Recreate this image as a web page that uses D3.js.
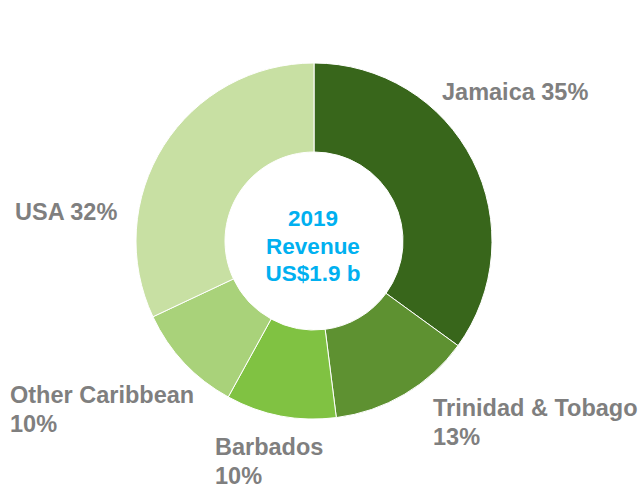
<!DOCTYPE html>
<html>
<head>
<meta charset="utf-8">
<script src="https://cdn.jsdelivr.net/npm/d3@7"></script>
<style>
  html, body { margin: 0; padding: 0; background: #fff; }
  svg { display: block; }
  text { font-family: "Liberation Sans", Arial, Helvetica, sans-serif; font-weight: bold; }
</style>
</head>
<body>
<svg id="chart" width="644" height="488"></svg>
<script>
// Data
const categories = ["Jamaica", "Trinidad & Tobago", "Barbados", "Other Caribbean", "USA"];
const shares = [35, 13, 10, 10, 32];
const labelLines = [
  ["Jamaica 35%"],
  ["Trinidad & Tobago", "13%"],
  ["Barbados", "10%"],
  ["Other Caribbean", "10%"],
  ["USA 32%"]
];
const centerLines = ["2019", "Revenue", "US$1.9 b"];

// Styling / layout
const colors = ["#38661b", "#5e9131", "#80c242", "#a9d27a", "#c8e0a3"];
const labelPos = [
  [442, 100], [433, 416], [215, 455], [10, 403], [15, 220]
];
const cx = 314, cy = 241, outerR = 178, innerR = 89;

const svg = d3.select("#chart");
const g = svg.append("g").attr("transform", `translate(${cx},${cy})`);

const pie = d3.pie().sort(null).value(d => d.v);
const arc = d3.arc().innerRadius(innerR).outerRadius(outerR);
const data = categories.map((c, i) => ({ c, v: shares[i], i }));

g.selectAll("path.slice")
  .data(pie(data))
  .join("path")
  .attr("class", "slice")
  .attr("d", arc)
  .attr("fill", d => colors[d.data.i])
  .attr("stroke", "#fff")
  .attr("stroke-width", 1);

// Labels
labelLines.forEach((lines, i) => {
  const t = svg.append("text")
    .attr("x", labelPos[i][0])
    .attr("y", labelPos[i][1])
    .attr("font-size", 23.5)
    .attr("fill", "#7f7f7f");
  lines.forEach((l, j) => {
    t.append("tspan").attr("x", labelPos[i][0]).attr("dy", j === 0 ? 0 : 29).text(l);
  });
});

// Center text
const ct = svg.append("text")
  .attr("x", cx - 1)
  .attr("y", 226)
  .attr("text-anchor", "middle")
  .attr("font-size", 22.5)
  .attr("fill", "#00b0f0");
centerLines.forEach((l, j) => {
  ct.append("tspan").attr("x", cx - 1).attr("dy", j === 0 ? 0 : 27.5).text(l);
});
</script>
</body>
</html>
